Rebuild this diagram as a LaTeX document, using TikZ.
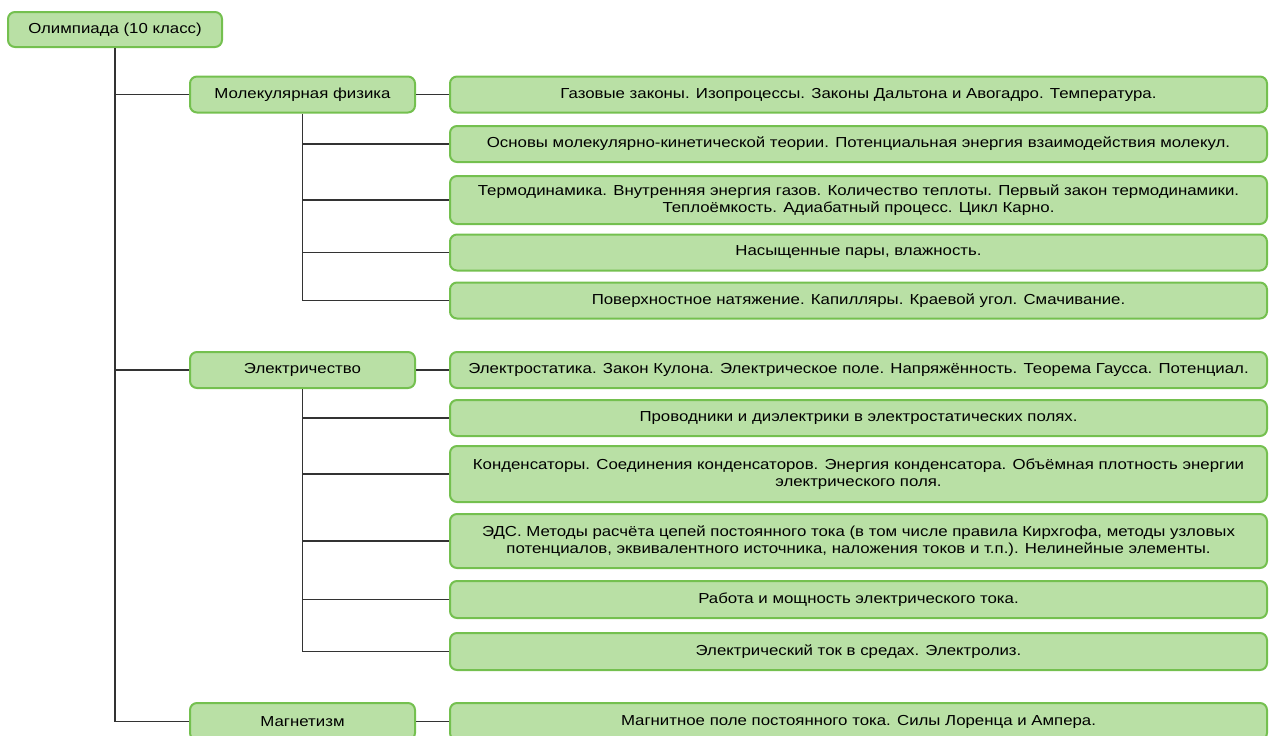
\documentclass[tikz,border=0pt]{standalone}
\usepackage{fontspec}
\setmainfont{Liberation Sans}[FakeStretch=1.16]
\definecolor{boxfill}{HTML}{B9E0A5}
\definecolor{boxline}{HTML}{74C04F}
\definecolor{linkgray}{HTML}{333333}

\begin{document}
\begin{tikzpicture}[x=1pt,y=-1pt]
    \tikzstyle{every node} = [draw=boxline,fill=boxfill,line width=2pt,rounded corners=7pt,align=center,inner sep=0pt,font=\fontsize{14.5}{16.5}\selectfont]
    \tikzstyle{midbox} = [minimum width=225pt,minimum height=36pt]
    \tikzstyle{topic} = [minimum width=817pt,minimum height=36pt]
    \tikzstyle{link} = [draw=linkgray,line width=1.6pt]
	\useasboundingbox (0,0) rectangle (1269,736);
	\clip (0,0) rectangle (1269,736);

	\node[minimum width=214pt,minimum height=35pt] (Olymp) at (115,29.5) {Олимпиада (10 класс)};

	\node[midbox] (Mol) at (302.5,94.5) {Молекулярная физика};
	\node[midbox] (Elec) at (302.5,370) {Электричество};
	\node[midbox,minimum height=37pt] (Magn) at (302.5,721.5) {Магнетизм};

	\node[topic] (Mol1) at (858.5,94.5) {Газовые законы. Изопроцессы. Законы Дальтона и Авогадро. Температура.};
	\node[topic] (Mol2) at (858.5,144) {Основы молекулярно-кинетической теории. Потенциальная энергия взаимодействия молекул.};
	\node[topic,minimum height=48pt] (Mol3) at (858.5,200) {Термодинамика. Внутренняя энергия газов. Количество теплоты. Первый закон термодинамики.\\Теплоёмкость. Адиабатный процесс. Цикл Карно.};
	\node[topic] (Mol4) at (858.5,252.5) {Насыщенные пары, влажность.};
	\node[topic] (Mol5) at (858.5,300.5) {Поверхностное натяжение. Капилляры. Краевой угол. Смачивание.};

	\node[topic] (Elec1) at (858.5,370) {Электростатика. Закон Кулона. Электрическое поле. Напряжённость. Теорема Гаусса. Потенциал.};
	\node[topic] (Elec2) at (858.5,418) {Проводники и диэлектрики в электростатических полях.};
	\node[topic,minimum height=56pt] (Elec3) at (858.5,474) {Конденсаторы. Соединения конденсаторов. Энергия конденсатора. Объёмная плотность энергии\\электрического поля.};
	\node[topic,minimum height=54pt] (Elec4) at (858.5,541) {ЭДС. Методы расчёта цепей постоянного тока (в том числе правила Кирхгофа, методы узловых\\потенциалов, эквивалентного источника, наложения токов и т.п.). Нелинейные элементы.};
	\node[topic,minimum height=37pt] (Elec5) at (858.5,599.5) {Работа и мощность электрического тока.};
	\node[topic,minimum height=37pt] (Elec6) at (858.5,651.5) {Электрический ток в средах. Электролиз.};

	\node[topic,minimum height=37pt] (Magn1) at (858.5,721.5) {Магнитное поле постоянного тока. Силы Лоренца и Ампера.};

	\draw[link] (Olymp.south) |- (Magn.west);
	\draw[link] (Olymp.south |- Mol.west) -- (Mol.west);
	\draw[link] (Olymp.south |- Elec.west) -- (Elec.west);

	\draw[link] (Mol.east) -- (Mol1.west);
	\draw[link] (Mol.south) |- (Mol5.west);
	\draw[link] (Mol.south |- Mol2.west) -- (Mol2.west);
	\draw[link] (Mol.south |- Mol3.west) -- (Mol3.west);
	\draw[link] (Mol.south |- Mol4.west) -- (Mol4.west);

	\draw[link] (Elec.east) -- (Elec1.west);
	\draw[link] (Elec.south) |- (Elec6.west);
	\draw[link] (Elec.south |- Elec2.west) -- (Elec2.west);
	\draw[link] (Elec.south |- Elec3.west) -- (Elec3.west);
	\draw[link] (Elec.south |- Elec4.west) -- (Elec4.west);
	\draw[link] (Elec.south |- Elec5.west) -- (Elec5.west);

	\draw[link] (Magn.east) -- (Magn1.west);

\end{tikzpicture}
\end{document}
